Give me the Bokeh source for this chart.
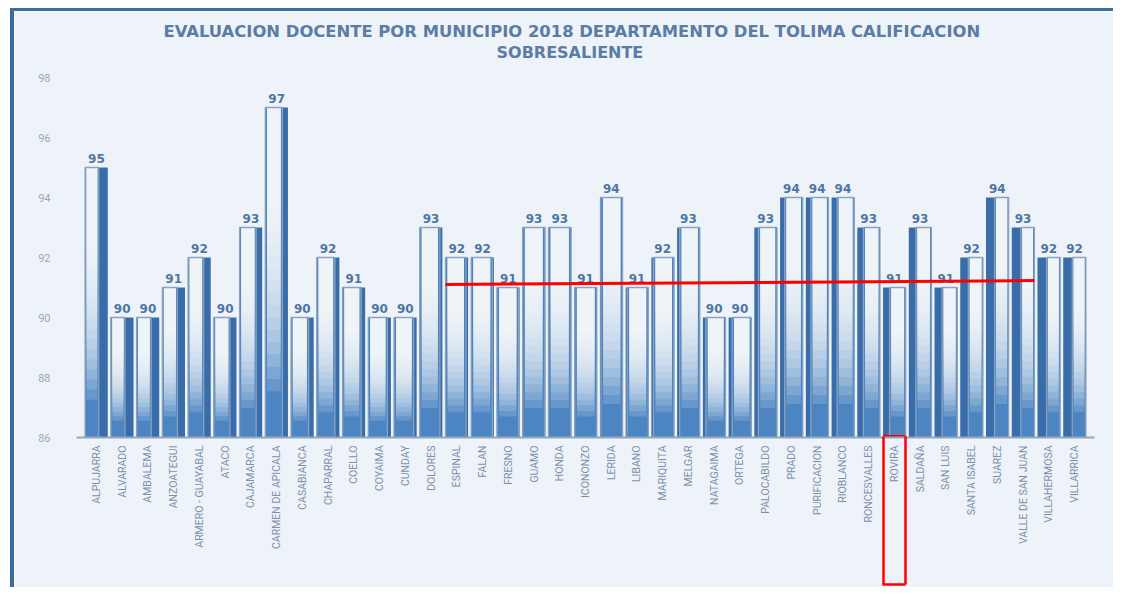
import numpy as np
from bokeh.plotting import figure
from bokeh.models import ColumnDataSource, Range1d, FixedTicker, Title, LinearAxis
from bokeh.core.properties import value
from bokeh.embed import file_html
from bokeh.resources import INLINE

# ---------------- data ----------------
municipios = [
    "ALPUJARRA", "ALVARADO", "AMBALEMA", "ANZOATEGUI", "ARMERO - GUAYABAL",
    "ATACO", "CAJAMARCA", "CARMEN DE APICALA", "CASABIANCA", "CHAPARRAL",
    "COELLO", "COYAIMA", "CUNDAY", "DOLORES", "ESPINAL", "FALAN", "FRESNO",
    "GUAMO", "HONDA", "ICONONZO", "LERIDA", "LIBANO", "MARIQUITA", "MELGAR",
    "NATAGAIMA", "ORTEGA", "PALOCABILDO", "PRADO", "PURIFICACION",
    "RIOBLANCO", "RONCESVALLES", "ROVIRA", "SALDAÑA", "SAN LUIS",
    "SANTA ISABEL", "SUAREZ", "VALLE DE SAN JUAN", "VILLAHERMOSA", "VILLARRICA",
]
calificacion = [
    95, 90, 90, 91, 92,
    90, 93, 97, 90, 92,
    91, 90, 90, 93, 92, 92, 91,
    93, 93, 91, 94, 91, 92, 93,
    90, 90, 93, 94, 94,
    94, 93, 91, 93, 91,
    92, 94, 93, 92, 92,
]
y_ticks = [86, 88, 90, 92, 94, 96, 98]
titulo_1 = "EVALUACION DOCENTE POR MUNICIPIO 2018 DEPARTAMENTO DEL TOLIMA CALIFICACION"
titulo_2 = "SOBRESALIENTE"
linea_roja_municipios = ["ESPINAL", "VALLE DE SAN JUAN"]
linea_roja_valores = [91.1, 91.23]
resaltado = "ROVIRA"

# ---------------- styling ----------------
BG = "#eef3f9"
RED = "#ff0000"
BASE = 86
n = len(municipios)
idx = np.arange(n)
vals = np.array(calificacion, dtype=float)
W = 0.88
half = W / 2
c = 18.0
d = np.clip(0.4 * (idx - c) / c, -0.4, 0.4)   # <0: dark side right, >0: dark side left
dark_left_w = np.where(d > 0, d * W, 0.0)
dark_right_w = np.where(d < 0, -d * W, 0.0)
L = idx - half
R = idx + half
face_l = L + dark_left_w
face_r = R - dark_right_w
inset = (face_r - face_l) * 0.1

p = figure(width=1103, height=579, title=None,
           x_range=Range1d(-0.775, n - 1 + 0.775), y_range=Range1d(86, 98),
           output_backend="svg", toolbar_location=None,
           min_border_left=62, min_border_right=23, min_border_top=66, min_border_bottom=153,
           background_fill_color=BG, border_fill_color=BG, outline_line_color=None)
p.styles = {"margin-left": "10px", "margin-top": "8px",
            "border-top": "3px solid #3e6f9c", "border-left": "4px solid #3a6c9c"}

fracs = np.linspace(0.14, 0.70, 16)
data = dict(x=idx, v=vals, b=np.full(n, BASE), L=L, R=R,
            fl=face_l, fr=face_r, il=face_l + inset, ir=face_r - inset,
            lab=[str(int(v)) for v in calificacion])
for k, f in enumerate(fracs):
    data[f"g{k}"] = BASE + (vals - BASE) * f
src = ColumnDataSource(data)

# dark body
p.quad(left="L", right="R", bottom="b", top="v", source=src,
       fill_color="#386daa", line_color=None)
# face base
p.quad(left="fl", right="fr", bottom="b", top="v", source=src,
       fill_color="#4d85c2", line_color=None)
# white gradient on face
for k in range(len(fracs)):
    p.quad(left="il", right="ir", bottom=f"g{k}", top="v",
           source=src, fill_color="white", fill_alpha=0.15, line_color=None)
# face outline
p.quad(left="fl", right="fr", bottom="b", top="v", source=src,
       fill_color=None, line_color="#8aa1bf", line_width=1.3)

# value labels
p.text(x="x", y="v", text="lab", source=src, y_offset=-5,
       text_align="center", text_baseline="bottom",
       text_font=value("DejaVu Sans"), text_font_style="bold",
       text_font_size="12px", text_color="#4d76a5")

# red line
rl_x = [municipios.index(linea_roja_municipios[0]) - half,
        municipios.index(linea_roja_municipios[1]) + half]
p.line(x=rl_x, y=linea_roja_valores, line_color=RED, line_width=3)

# red highlight box around the ROVIRA label: top edge
ri = municipios.index(resaltado)
box_l, box_r = ri - 0.44, ri + 0.44
p.segment(x0=[box_l], x1=[box_r], y0=[BASE + 0.04], y1=[BASE + 0.04],
          line_color=RED, line_width=2.5)

# titles (a blank spacer title sits between the frame and the second line)
p.add_layout(Title(text="\u00a0", align="left", text_font="DejaVu Sans",
                   text_font_size="12px", text_line_height=0.9,
                   text_color=BG, standoff=0), "above")
p.add_layout(Title(text=titulo_2, align="left", offset=420, text_font="DejaVu Sans",
                   text_font_style="bold", text_font_size="16px", text_line_height=0.9,
                   text_color="#5a7ca6", standoff=0), "above")
p.add_layout(Title(text=titulo_1, align="left", offset=87, text_font="DejaVu Sans",
                   text_font_style="bold", text_font_size="16.4px", text_line_height=0.9,
                   text_color="#5a7ca6", standoff=0), "above")

# axes
p.xgrid.visible = False
p.ygrid.visible = False
xa = p.xaxis[0]
xa.ticker = FixedTicker(ticks=[int(i) for i in idx])
xa.major_label_overrides = {int(i): m for i, m in enumerate(municipios)}
xa.major_label_orientation = np.pi / 2
xa.major_label_text_font = "Roboto"
xa.major_label_text_font_size = "10.5px"
xa.major_label_text_color = "#7d90a8"
xa.major_label_standoff = 8
xa.axis_line_color = "#8fa5c0"
xa.axis_line_width = 2
xa.major_tick_line_color = None
xa.major_tick_out = 0
xa.major_tick_in = 0
xa.minor_tick_line_color = None
xa.minor_tick_out = 0
xa.minor_tick_in = 0

# transparent spacer axis, then the axis drawing the bottom & sides of the highlight box
spacer = LinearAxis(ticker=FixedTicker(ticks=[box_l, box_r]),
                    axis_line_color=RED, axis_line_alpha=0,
                    major_tick_line_color=RED, major_tick_line_alpha=0,
                    minor_tick_line_color=None,
                    major_tick_in=0, major_tick_out=33, minor_tick_in=0, minor_tick_out=0,
                    major_label_text_font_size="0px", major_label_text_alpha=0,
                    major_label_standoff=0)
p.add_layout(spacer, "below")
box_axis = LinearAxis(ticker=FixedTicker(ticks=[box_l, box_r]),
                      bounds=(box_l - 0.005, box_r + 0.005),
                      axis_line_color=RED, axis_line_width=2.5,
                      major_tick_line_color=RED, major_tick_line_width=2.5,
                      major_tick_in=148, major_tick_out=0,
                      minor_tick_line_color=None, minor_tick_in=0, minor_tick_out=0,
                      major_label_text_font_size="0px", major_label_text_alpha=0,
                      major_label_standoff=0)
p.add_layout(box_axis, "below")

p.yaxis.ticker = FixedTicker(ticks=y_ticks)
p.yaxis.axis_line_color = None
p.yaxis.major_tick_line_color = None
p.yaxis.minor_tick_line_color = None
p.yaxis.major_label_standoff = 20
p.yaxis.major_label_text_font = "Roboto"
p.yaxis.major_label_text_font_size = "11px"
p.yaxis.major_label_text_color = "#9aa8b9"

open("out.html", "w").write(file_html(p, INLINE))
